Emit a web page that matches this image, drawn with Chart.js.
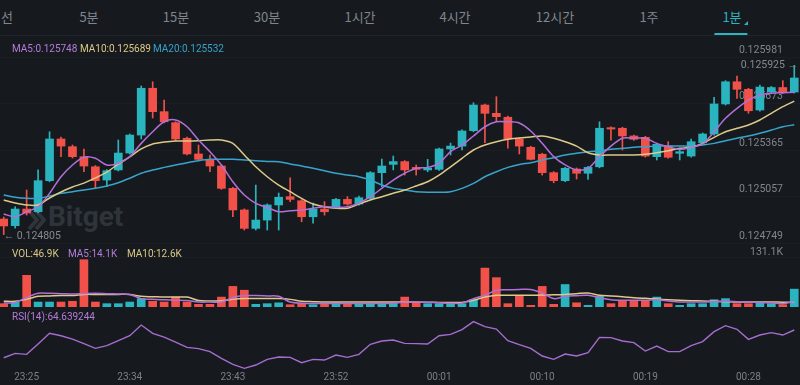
<!DOCTYPE html>
<html>
<head>
<meta charset="utf-8">
<script src="https://cdn.jsdelivr.net/npm/chart.js@4.4.1/dist/chart.umd.min.js"></script>
<style>
  html, body { margin: 0; padding: 0; background: #161a1f; width: 800px; height: 385px; overflow: hidden; }
  #wrap { position: relative; width: 800px; height: 385px; font-family: Roboto, "Noto Sans", sans-serif; }
  .tabs { position: absolute; left: 0; top: 0; width: 800px; height: 35px; border-bottom: 1px solid #20252b; }
  .tab { position: absolute; top: 8px; font-family: "Noto Sans CJK KR", sans-serif; font-size: 13px; line-height: 18px;
         color: #80868c; transform: translateX(-50%); white-space: nowrap; }
  .tab.on { color: #2fb3c0; }
  .tab.on::after { content: ""; position: absolute; left: -8px; right: -6px; top: 25px; height: 2px; background: #2fb3c0; }
  .tri { position: absolute; left: 744px; top: 21px; width: 0; height: 0; border-left: 4px solid transparent; border-bottom: 4px solid #2fb3c0; }
  .lg { position: absolute; font-size: 10px; line-height: 12px; white-space: nowrap; z-index: 5; }
  .p { color: #b57bd8; } .y { color: #d9c985; } .b { color: #37a3c7; }
  canvas { position: absolute; }
  #wm { position: absolute; left: 27px; top: 200px; color: #2f343a; font: bold 28px Roboto, "Noto Sans", sans-serif; }
  #wm svg { position: absolute; left: 0; top: 9px; }
  #wm span { position: absolute; left: 21px; top: 0; }
</style>
</head>
<body>
<div id="wrap">
  <div class="tabs">
    <div class="tab" style="left:7px">선</div>
    <div class="tab" style="left:89px">5분</div>
    <div class="tab" style="left:176px">15분</div>
    <div class="tab" style="left:267px">30분</div>
    <div class="tab" style="left:360px">1시간</div>
    <div class="tab" style="left:455px">4시간</div>
    <div class="tab" style="left:555px">12시간</div>
    <div class="tab" style="left:649px">1주</div>
    <div class="tab on" style="left:732px">1분</div>
    <div class="tri"></div>
  </div>
  <div id="wm">
    <svg width="19" height="22" viewBox="0 0 19 22"><path d="M2 2 L10 11 L2 20 M9 2 L17 11 L9 20" stroke="#2f343a" stroke-width="4" fill="none"/></svg>
    <span>Bitget</span>
  </div>
  <div class="lg" style="left:12px;top:43px"><span class="p">MA5:0.125748</span></div>
  <div class="lg" style="left:80px;top:43px"><span class="y">MA10:0.125689</span></div>
  <div class="lg" style="left:153px;top:43px"><span class="b">MA20:0.125532</span></div>
  <div class="lg" style="left:12px;top:248px"><span class="y">VOL:46.9K</span></div>
  <div class="lg" style="left:68px;top:248px"><span class="p">MA5:14.1K</span></div>
  <div class="lg" style="left:127px;top:248px"><span class="y">MA10:12.6K</span></div>
  <div class="lg" style="left:12px;top:311px"><span class="p">RSI(14):64.639244</span></div>
  <canvas id="price" width="802" height="215" style="left:-2px;top:33px"></canvas>
  <canvas id="vol" width="802" height="67" style="left:-2px;top:240px"></canvas>
  <canvas id="rsi" width="802" height="73" style="left:-2px;top:310px"></canvas>
</div>
<script>
const times = ['23:23','23:24','23:25','23:26','23:27','23:28','23:29','23:30','23:31','23:32',
  '23:33','23:34','23:35','23:36','23:37','23:38','23:39','23:40','23:41','23:42',
  '23:43','23:44','23:45','23:46','23:47','23:48','23:49','23:50','23:51','23:52',
  '23:53','23:54','23:55','23:56','23:57','23:58','23:59','00:00','00:01','00:02',
  '00:03','00:04','00:05','00:06','00:07','00:08','00:09','00:10','00:11','00:12',
  '00:13','00:14','00:15','00:16','00:17','00:18','00:19','00:20','00:21','00:22',
  '00:23','00:24','00:25','00:26','00:27','00:28','00:29','00:30','00:31','00:32'];
const shownTimes = ['23:25','23:34','23:43','23:52','00:01','00:10','00:19','00:28'];

const opens = [0.124908,0.124864,0.124974,0.124956,0.125162,0.125438,0.125387,0.125321,0.125254,0.125166,
  0.125233,0.125345,0.125464,0.125774,0.125619,0.125546,0.125443,0.125339,0.125303,0.125259,
  0.125111,0.124968,0.124846,0.124901,0.125001,0.125056,0.125029,0.124923,0.124974,0.124989,
  0.125038,0.125007,0.125045,0.125215,0.125270,0.125288,0.125250,0.125233,0.125237,0.125372,
  0.125391,0.125493,0.125663,0.125608,0.125582,0.125438,0.125383,0.125337,0.125215,0.125162,
  0.125239,0.125211,0.125254,0.125513,0.125509,0.125458,0.125449,0.125321,0.125391,0.125343,
  0.125325,0.125413,0.125471,0.125670,0.125817,0.125767,0.125630,0.125749,0.125779,0.125749];
const highs = [0.124921,0.124989,0.125100,0.125233,0.125486,0.125451,0.125398,0.125372,0.125262,0.125235,
  0.125431,0.125471,0.125789,0.125817,0.125696,0.125552,0.125450,0.125398,0.125332,0.125266,
  0.125118,0.124975,0.125133,0.125008,0.125080,0.125180,0.125036,0.125014,0.125023,0.125045,
  0.125056,0.125060,0.125222,0.125305,0.125325,0.125295,0.125266,0.125303,0.125378,0.125411,
  0.125498,0.125678,0.125670,0.125718,0.125589,0.125445,0.125390,0.125344,0.125222,0.125251,
  0.125246,0.125257,0.125552,0.125519,0.125516,0.125464,0.125456,0.125410,0.125420,0.125365,
  0.125438,0.125478,0.125714,0.125824,0.125855,0.125774,0.125795,0.125786,0.125824,0.125925];
const lows = [0.124805,0.124848,0.124934,0.124948,0.125155,0.125321,0.125312,0.125221,0.125113,0.125122,
  0.125226,0.125338,0.125438,0.125577,0.125545,0.125425,0.125332,0.125296,0.125221,0.125104,
  0.124923,0.124835,0.124835,0.124835,0.124835,0.125023,0.124890,0.124881,0.124934,0.124982,
  0.125000,0.125000,0.125038,0.125122,0.125233,0.125199,0.125199,0.125221,0.125230,0.125332,
  0.125365,0.125486,0.125413,0.125552,0.125378,0.125339,0.125299,0.125199,0.125148,0.125155,
  0.125173,0.125171,0.125247,0.125431,0.125365,0.125429,0.125318,0.125299,0.125310,0.125299,
  0.125318,0.125406,0.125464,0.125663,0.125707,0.125608,0.125623,0.125742,0.125740,0.125742];
const closes = [0.124862,0.124974,0.124948,0.125162,0.125438,0.125391,0.125321,0.125259,0.125162,0.125228,
  0.125345,0.125464,0.125774,0.125619,0.125552,0.125438,0.125339,0.125303,0.125259,0.125111,
  0.124968,0.124846,0.124901,0.125001,0.125052,0.125038,0.124923,0.124974,0.124956,0.125038,
  0.125007,0.125049,0.125215,0.125259,0.125288,0.125233,0.125237,0.125246,0.125372,0.125391,
  0.125491,0.125663,0.125608,0.125586,0.125438,0.125391,0.125303,0.125215,0.125162,0.125244,
  0.125211,0.125250,0.125509,0.125504,0.125458,0.125436,0.125325,0.125403,0.125317,0.125354,
  0.125420,0.125471,0.125670,0.125817,0.125767,0.125625,0.125782,0.125779,0.125747,0.125842];

const ma5 = [0.124941,0.124923,0.124956,0.124989,0.125078,0.125188,0.125266,0.125317,0.125310,0.125266,
  0.125277,0.125321,0.125409,0.125486,0.125552,0.125564,0.125519,0.125431,0.125354,0.125266,
  0.125155,0.125067,0.125012,0.124984,0.124956,0.124963,0.124968,0.124979,0.124989,0.124985,
  0.124989,0.125012,0.125056,0.125111,0.125166,0.125211,0.125244,0.125250,0.125277,0.125354,
  0.125398,0.125458,0.125519,0.125552,0.125552,0.125544,0.125491,0.125409,0.125321,0.125266,
  0.125233,0.125244,0.125321,0.125391,0.125443,0.125443,0.125443,0.125409,0.125387,0.125370,
  0.125383,0.125405,0.125486,0.125575,0.125641,0.125696,0.125729,0.125741,0.125745,0.125748];
const ma10 = [0.125034,0.125014,0.125001,0.125001,0.125047,0.125087,0.125120,0.125146,0.125180,0.125219,
  0.125272,0.125319,0.125372,0.125405,0.125418,0.125425,0.125425,0.125427,0.125431,0.125431,
  0.125409,0.125332,0.125254,0.125188,0.125133,0.125089,0.125045,0.125007,0.124989,0.124979,
  0.124979,0.125007,0.125034,0.125056,0.125078,0.125100,0.125127,0.125155,0.125199,0.125254,
  0.125310,0.125365,0.125398,0.125420,0.125436,0.125444,0.125451,0.125458,0.125443,0.125420,
  0.125391,0.125347,0.125332,0.125332,0.125332,0.125332,0.125337,0.125347,0.125360,0.125376,
  0.125383,0.125409,0.125449,0.125486,0.125509,0.125531,0.125564,0.125608,0.125652,0.125689];
const ma20 = [0.125067,0.125052,0.125045,0.125045,0.125060,0.125078,0.125089,0.125100,0.125111,0.125127,
  0.125148,0.125178,0.125211,0.125233,0.125250,0.125266,0.125281,0.125294,0.125303,0.125303,
  0.125303,0.125299,0.125294,0.125289,0.125288,0.125272,0.125259,0.125244,0.125228,0.125211,
  0.125199,0.125188,0.125166,0.125133,0.125111,0.125100,0.125089,0.125085,0.125085,0.125089,
  0.125111,0.125144,0.125188,0.125221,0.125250,0.125269,0.125281,0.125299,0.125314,0.125332,
  0.125343,0.125354,0.125360,0.125370,0.125376,0.125383,0.125387,0.125391,0.125391,0.125391,
  0.125391,0.125398,0.125409,0.125427,0.125443,0.125458,0.125476,0.125497,0.125519,0.125532];

// volume in thousands
const volumes = [8.7,13,83,13,13,13,15,124,13,8.7, 8.7,13,22,15,13,26,13,7,7,26,
  54,44,7,8.7,11,6,10,6,8.7,11, 8.7,8.7,10,10,10,26,11,8.7,8.7,8.7,
  8.7,19,102,77,8.7,28,4.4,54,7,59, 11,4.4,28,8.7,15,15,17,26,8.7,4.4,
  8.7,8.7,19,22,8.7,8.7,10,8.7,6,46.9];
const volMa5 = [10.5,12,25,36,36,35,34,35,36,35, 34,33,22,20,19,18,17,13,13,13,
  25,30,30,29,28,13,10,9,9,9, 9,9,9,9,10,13,13,12,11,10,
  10,22,30.6,43.7,45,46,46,36.7,22,28, 29.7,30.6,24.5,19,17.5,17.5,17.5,19,15.7,13,
  13,13,14,15,14,13,12,10.5,8.7,14.1];
const volMa10 = [15,15,20,28,29,30,30,33,33,33, 33,33,28,27,26,26,26,17,16,16,
  20,22,22,22,22,20,15,14,13,13, 13,13,13,13,13,13,13,12.5,12,12,
  12,17.5,26,30.6,30.6,30.6,30.6,31.5,32,33, 35,36.7,30.6,29,27,24.5,22.7,21,19,17.5,
  16.6,15.7,14.9,14,13,13,13,13,12.7,12.6];
const rsi = [36.9,41.3,40.3,50.6,61.3,58.9,55.6,51.0,46.3,49.0, 54.0,58.9,69.6,61.3,57.6,52.6,47.3,46.0,43.0,36.3,
  30.3,26.3,29.6,35.3,37.6,37.3,32.0,35.3,34.6,39.6, 37.3,40.3,50.3,53.6,54.6,51.3,51.0,50.6,58.9,60.3,
  65.0,73.0,68.0,65.6,54.0,50.0,46.3,38.6,35.3,40.6, 38.6,42.0,57.3,57.0,53.6,52.0,43.6,48.6,43.0,43.0,
  49.0,53.0,63.0,69.0,65.3,55.3,59.6,62.0,59.6,64.64];

const priceTicks = [0.124749, 0.125057, 0.125365, 0.125673, 0.125981];
const volTicks = [131.1];
const lastPrice = 0.125925;

const UP = '#2ab4c0', DOWN = '#f2514a';
const PURPLE = '#b170d6', YELLOW = '#ddc988', BLUE = '#38a4cb';
const candleColors = opens.map((o, i) => closes[i] >= o ? UP : DOWN);

Chart.defaults.font.family = 'Roboto, "Noto Sans", sans-serif';
Chart.defaults.animation = false;

const common = {
  responsive: false,
  animation: false,
  layout: { padding: 0 },
  plugins: { legend: { display: false }, tooltip: { enabled: false } }
};

// right side labels sit inside the plot, a little above their grid line
function insideAxis(ticksArr, fmt, offset) {
  return {
    position: 'right',
    afterBuildTicks: s => { s.ticks = ticksArr.map(v => ({ value: v })); },
    afterFit: s => { s.width = 0; },
    border: { display: false },
    grid: { color: 'rgba(255,255,255,0.025)', drawTicks: false },
    ticks: { mirror: true, padding: -17, labelOffset: offset, color: '#80868c',
             font: { size: 10.5 }, callback: fmt }
  };
}

const priceMarks = {
  id: 'priceMarks',
  afterDatasetsDraw(chart) {
    const { ctx, scales: { x, y }, chartArea } = chart;
    const low = Math.min(...lows);
    const idx = lows.indexOf(low);
    ctx.save();
    ctx.font = '10.5px Roboto, "Noto Sans", sans-serif';
    ctx.fillStyle = '#858b91';
    ctx.textBaseline = 'middle';
    ctx.textAlign = 'left';
    ctx.fillText('\u2190 ' + low.toFixed(6), x.getPixelForValue(idx), y.getPixelForValue(low) + 2);
    ctx.textAlign = 'right';
    ctx.fillText(lastPrice.toFixed(6) + ' \u2192', chartArea.right - 2, y.getPixelForValue(lastPrice));
    ctx.restore();
  }
};

function maLine(data, color, order) {
  return { type: 'line', data, borderColor: color, borderWidth: 1.5, pointRadius: 0, tension: 0.3, order };
}

new Chart(document.getElementById('price'), {
  type: 'bar',
  data: {
    labels: times,
    datasets: [
      maLine(ma5, PURPLE, 0),
      maLine(ma10, YELLOW, 0),
      maLine(ma20, BLUE, 0),
      { data: opens.map((o, i) => [o, closes[i]]), backgroundColor: candleColors,
        barThickness: 8, minBarLength: 1, grouped: false, order: 1 },
      { data: lows.map((l, i) => [l, highs[i]]), backgroundColor: candleColors,
        barThickness: 1, grouped: false, order: 2 }
    ]
  },
  options: {
    ...common,
    scales: {
      x: { display: false, offset: true },
      y: { min: 0.124716, max: 0.126140, ...insideAxis(priceTicks, v => v.toFixed(6), -7) }
    }
  },
  plugins: [priceMarks]
});

new Chart(document.getElementById('vol'), {
  type: 'bar',
  data: {
    labels: times,
    datasets: [
      maLine(volMa5, PURPLE, 0),
      maLine(volMa10, YELLOW, 0),
      { data: volumes, backgroundColor: candleColors, barThickness: 8, order: 1 }
    ]
  },
  options: {
    ...common,
    scales: {
      x: { display: false, offset: true },
      y: { min: 0, max: 175.7, ...insideAxis(volTicks, v => v.toFixed(1) + 'K', -5) }
    }
  }
});

new Chart(document.getElementById('rsi'), {
  type: 'line',
  data: {
    labels: times,
    datasets: [{ data: rsi, borderColor: '#a66ccf', borderWidth: 1.4, pointRadius: 0, tension: 0 }]
  },
  options: {
    ...common,
    scales: {
      x: {
        offset: true,
        border: { display: false },
        grid: { display: false, drawTicks: false },
        ticks: {
          autoSkip: false, maxRotation: 0, padding: 0, color: '#7a8087', font: { size: 10 },
          callback: (v, i) => shownTimes.includes(times[i]) ? times[i] : null
        }
      },
      y: { display: false, min: 23.64, max: 84.64 }
    }
  }
});
</script>
</body>
</html>
